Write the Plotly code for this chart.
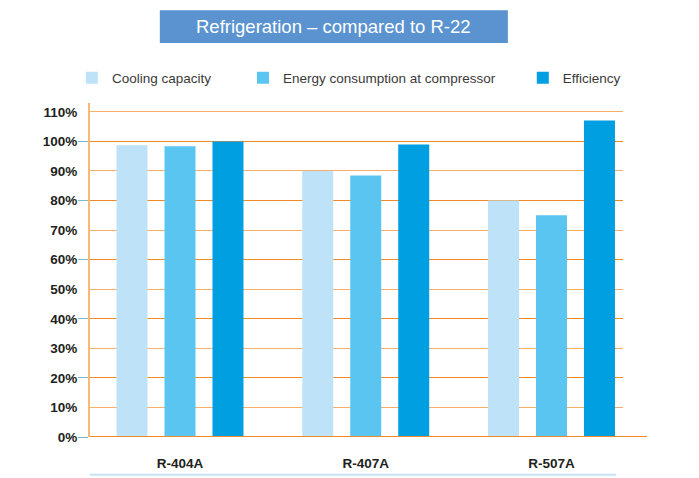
import plotly.graph_objects as go

categories = ["R-404A", "R-407A", "R-507A"]
cooling_capacity = [98.7, 90.0, 80.0]
energy_consumption = [98.4, 88.5, 75.0]
efficiency = [100.0, 99.0, 107.1]

series_names = ["Cooling capacity", "Energy consumption at compressor", "Efficiency"]
series_values = [cooling_capacity, energy_consumption, efficiency]
series_colors = ["#bee3f9", "#5bc5f2", "#009fe2"]
legend_ids = ["legend", "legend2", "legend3"]

FONT = "Liberation Sans, Arial, Helvetica, sans-serif"

fig = go.Figure()
for name, vals, col, lg in zip(series_names, series_values, series_colors, legend_ids):
    fig.add_trace(go.Bar(
        x=categories, y=vals, name=name, legend=lg,
        marker=dict(color=col, line=dict(width=0)),
        hoverinfo="x+y+name",
    ))

# empty trace to anchor the label axis
fig.add_trace(go.Scatter(x=[], y=[], yaxis="y2", showlegend=False))

light_orange = "#f7ae6a"
dark_orange = "#f08a26"

legend_common = dict(
    orientation="h", yanchor="middle", xanchor="left",
    font=dict(family=FONT, size=13.5, color="#3a3a3a"),
    bgcolor="rgba(0,0,0,0)", borderwidth=0,
)

fig.update_layout(
    width=699, height=478,
    margin=dict(l=90, r=76, t=103, b=41, autoexpand=False),
    paper_bgcolor="white", plot_bgcolor="white",
    showlegend=True,
    barmode="group", bargap=0.225, bargroupgap=0.354,
    font=dict(family=FONT),
    legend=dict(x=-0.034, y=1.075, **legend_common),
    legend2=dict(x=0.287, y=1.075, **legend_common),
    legend3=dict(x=0.812, y=1.075, **legend_common),
    xaxis=dict(
        type="category", range=[-0.4845, 2.385],
        showline=False, showgrid=False, zeroline=False,
        ticks="outside", ticklen=14, tickcolor="rgba(0,0,0,0)",
        tickfont=dict(family=FONT, size=13.5, color="#231f20", weight="bold"),
    ),
    yaxis=dict(
        range=[0, 113], dtick=20, tick0=0,
        showticklabels=False,
        showgrid=True, gridcolor=dark_orange, gridwidth=1,
        minor=dict(dtick=10, tick0=0, showgrid=True, gridcolor=light_orange, gridwidth=1, ticks=""),
        ticks="outside", ticklen=10, tickcolor="#7db9c4", tickwidth=1,
        showline=True, linecolor="#f9b878", linewidth=2,
        zeroline=False,
    ),
    yaxis2=dict(
        overlaying="y", side="left", range=[0, 113], dtick=10, tick0=0,
        ticksuffix="%", showgrid=False, zeroline=False, showline=False,
        ticks="outside", ticklen=9, tickcolor="rgba(0,0,0,0)",
        tickfont=dict(family=FONT, size=13.5, color="#231f20", weight="bold"),
    ),
    shapes=[
        # title box
        dict(type="rect", xref="paper", yref="paper", x0=0.131, x1=0.784, y0=1.180, y1=1.278,
             fillcolor="#5a93d0", line=dict(width=0), layer="below"),
        # baseline extending beyond plot
        dict(type="line", xref="paper", yref="y", x0=0, x1=1.045, y0=0, y1=0,
             line=dict(color=dark_orange, width=2), layer="above"),
        # light blue rule under category labels
        dict(type="line", xref="paper", yref="paper", x0=0, x1=0.987, y0=-0.113, y1=-0.113,
             line=dict(color="#c6e1f7", width=2)),
    ],
    annotations=[
        dict(text="Refrigeration – compared to R-22", xref="paper", yref="paper",
             x=0.4575, y=1.229, xanchor="center", yanchor="middle", showarrow=False,
             font=dict(family=FONT, size=18.5, color="white")),
    ],
)

fig.write_html("out.html", config={"displayModeBar": False},
               post_script="document.body.style.margin='0';")
